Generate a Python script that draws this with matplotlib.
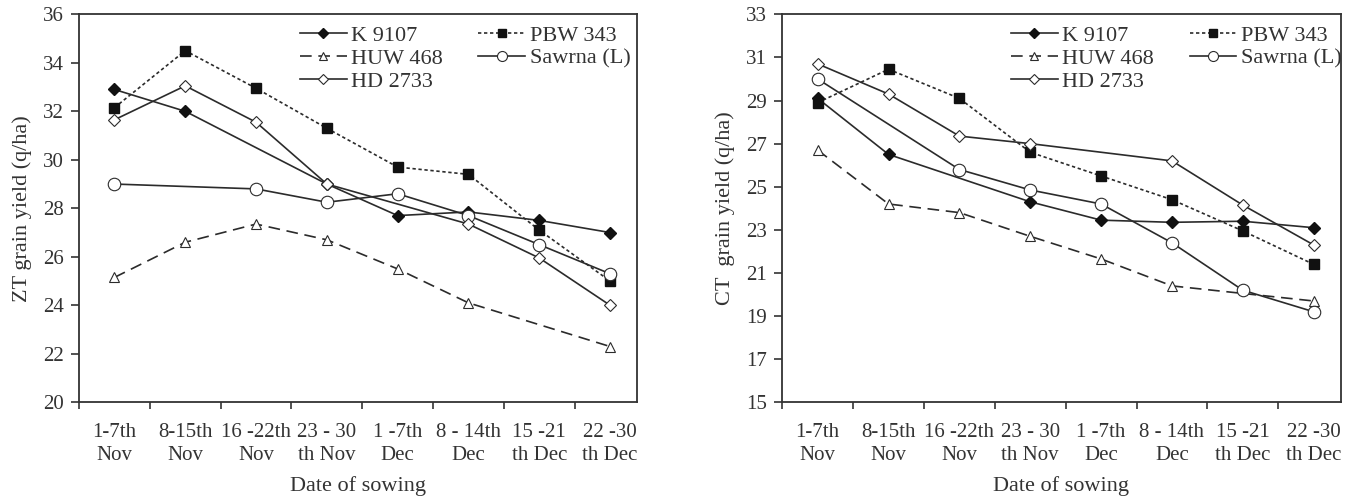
import matplotlib
matplotlib.use("Agg")
import matplotlib.pyplot as plt
import numpy as np

plt.rcParams['font.family'] = ['Liberation Serif', 'DejaVu Serif']

sowing_dates = ["1-7th\nNov", "8-15th\nNov", "16 -22th\nNov", "23 - 30\nth Nov",
                "1 -7th\nDec", "8 - 14th\nDec", "15 -21\nth Dec", "22 -30\nth Dec"]
varieties = ["K 9107", "PBW 343", "HUW 468", "Sawrna (L)", "HD 2733"]
nan = np.nan

# zero tillage yields (q/ha); nan = no marker drawn, line joins neighbours
zt_k9107 = [32.9, 32.0, nan, 29.0, 27.7, 27.85, 27.5, 27.0]
zt_pbw343 = [32.15, 34.5, 32.95, 31.3, 29.7, 29.4, 27.1, 25.0]
zt_huw468 = [25.15, 26.6, 27.35, 26.7, 25.5, 24.1, nan, 22.3]
zt_sawrna = [29.0, nan, 28.8, 28.25, 28.6, 27.7, 26.5, 25.3]
zt_hd2733 = [31.65, 33.05, 31.55, 29.0, nan, 27.35, 25.95, 24.0]

# conventional tillage yields (q/ha)
ct_k9107 = [29.1, 26.5, nan, 24.3, 23.45, 23.35, 23.4, 23.1]
ct_pbw343 = [28.9, 30.45, 29.1, 26.6, 25.5, 24.4, 22.95, 21.4]
ct_huw468 = [26.7, 24.2, 23.8, 22.7, 21.65, 20.4, nan, 19.7]
ct_sawrna = [30.0, nan, 25.8, 24.85, 24.2, 22.4, 20.2, 19.2]
ct_hd2733 = [30.7, 29.3, 27.35, 27.0, nan, 26.2, 24.15, 22.3]

zt_data = [zt_k9107, zt_pbw343, zt_huw468, zt_sawrna, zt_hd2733]
ct_data = [ct_k9107, ct_pbw343, ct_huw468, ct_sawrna, ct_hd2733]

line_col = '#2b2b2b'
txt_col = '#333333'
styles = [
    dict(ls='-', marker='D', mfc='#111111', mec='#111111', ms=6.5),
    dict(ls=(0, (2, 1.6)), marker='s', mfc='#111111', mec='#111111', ms=7),
    dict(ls=(0, (7, 4)), marker='^', mfc='white', mec=line_col, ms=7.5, mew=0.8),
    dict(ls='-', marker='o', mfc='white', mec=line_col, ms=9, mew=0.8),
    dict(ls='-', marker='D', mfc='white', mec=line_col, ms=6.5, mew=0.8),
]


def draw_panel(ax, data, ylim, yticks, ylabel, leg_x):
    x = np.arange(len(sowing_dates))
    handles = []
    for vals, name, st in zip(data, varieties, styles):
        v = np.array(vals, dtype=float)
        ok = ~np.isnan(v)
        h, = ax.plot(x[ok], v[ok], color=line_col, lw=1.2, label=name, **st)
        handles.append(h)
    ax.set_xlim(-0.5, 7.38)
    ax.set_ylim(*ylim)
    ax.set_yticks(yticks)
    ax.set_xticks(np.arange(-0.5, 7, 1.0))
    ax.set_xticklabels([])
    ax.set_xticks(x, minor=True)
    ax.set_xticklabels(sowing_dates, minor=True, fontsize=15, color=txt_col,
                       linespacing=1.3)
    ax.tick_params(axis='x', which='minor', length=0, pad=15)
    ax.tick_params(axis='x', which='major', length=5, width=1.2, color=txt_col)
    ax.tick_params(axis='y', length=6, width=1.2, color=txt_col, labelsize=15,
                   labelcolor=txt_col, pad=5)
    for sp in ax.spines.values():
        sp.set_linewidth(1.3)
        sp.set_color(txt_col)
    ax.set_ylabel(ylabel, fontsize=16, color=txt_col, labelpad=8)
    ax.set_xlabel("Date of sowing", fontsize=16, color=txt_col, labelpad=8)
    order = [0, 2, 4, 1, 3]
    leg = ax.legend([handles[i] for i in order], [varieties[i] for i in order],
                    ncol=2, frameon=False, fontsize=16, handlelength=2.1,
                    handletextpad=0.2, columnspacing=1.6, labelspacing=0.12,
                    loc='upper left', bbox_to_anchor=(leg_x, 0.972),
                    borderpad=0, borderaxespad=0, markerscale=0.8)
    for t in leg.get_texts():
        t.set_color(txt_col)


fig = plt.figure(figsize=(13.51, 5.0), dpi=100)
ax1 = fig.add_axes([0.0585, 0.1954, 0.413, 0.776])
ax2 = fig.add_axes([0.579, 0.1954, 0.4133, 0.776])

draw_panel(ax1, zt_data, (20, 36), np.arange(20, 37, 2), "ZT grain yield (q/ha)", 0.396)
draw_panel(ax2, ct_data, (15, 33), np.arange(15, 34, 2), "CT  grain yield (q/ha)", 0.41)

fig.savefig("out.png", dpi=100)
